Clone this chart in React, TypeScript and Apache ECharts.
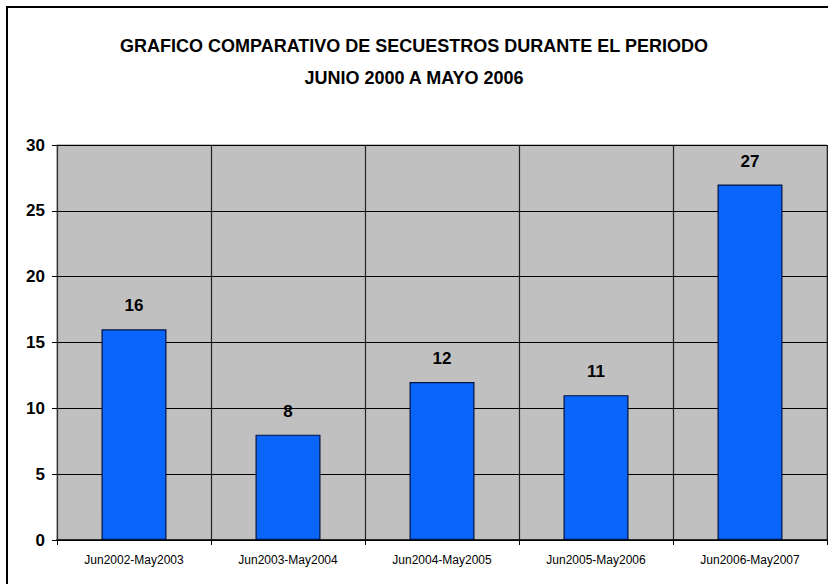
import React, { useEffect, useRef } from "react";
import * as echarts from "echarts";

const categories = ["Jun2002-May2003", "Jun2003-May2004", "Jun2004-May2005", "Jun2005-May2006", "Jun2006-May2007"];
const values = [16, 8, 12, 11, 27];
const titleLines = ["GRAFICO COMPARATIVO DE SECUESTROS DURANTE EL PERIODO", "JUNIO 2000 A MAYO 2006"];

export default function App() {
  const ref = useRef<HTMLDivElement>(null);
  useEffect(() => {
    document.body.style.margin = "0";
    const chart = echarts.init(ref.current!, null, { renderer: "svg" });
    chart.setOption({
      animation: false,
      backgroundColor: "#ffffff",
      title: {
        text: titleLines.join("\n"),
        left: "center",
        top: 25,
        textStyle: {
          fontFamily: "Liberation Sans, Arial",
          fontWeight: "bold",
          fontSize: 18,
          lineHeight: 32,
          color: "#000",
        },
      },
      graphic: [
        {
          type: "rect",
          shape: { x: 7, y: 7, width: 840, height: 600 },
          style: { fill: "none", stroke: "#000", lineWidth: 2 },
          z: 100,
        },
      ],
      grid: {
        left: 57,
        top: 145,
        width: 770,
        height: 395,
        show: true,
        backgroundColor: "#c0c0c0",
        borderColor: "#808080",
        borderWidth: 1,
      },
      xAxis: {
        type: "category",
        data: categories,
        axisLine: { show: true, lineStyle: { color: "#000", width: 1.5 } },
        axisTick: { show: true, length: 5, lineStyle: { color: "#000" } },
        axisLabel: {
          fontFamily: "Liberation Sans, Arial",
          fontSize: 12,
          color: "#000",
          margin: 14,
        },
        splitLine: { show: true, lineStyle: { color: "#222", width: 1.2 } },
      },
      yAxis: {
        type: "value",
        min: 0,
        max: 30,
        interval: 5,
        axisLine: { show: true, lineStyle: { color: "#333", width: 1 } },
        axisTick: { show: true, length: 5, lineStyle: { color: "#000" } },
        axisLabel: {
          fontFamily: "Liberation Sans, Arial",
          fontWeight: "bold",
          fontSize: 17,
          color: "#000",
          margin: 12,
        },
        splitLine: { show: true, lineStyle: { color: "#000", width: 1.2 } },
      },
      series: [
        {
          type: "bar",
          data: values,
          barWidth: 65,
          itemStyle: { color: "#0a66fa", borderColor: "#001040", borderWidth: 1.2 },
          label: {
            show: true,
            position: "top",
            distance: 15,
            fontFamily: "Liberation Sans, Arial",
            fontWeight: "bold",
            fontSize: 17,
            color: "#000",
          },
        },
      ],
    });
    return () => chart.dispose();
  }, []);
  return <div ref={ref} style={{ position: "absolute", left: 0, top: 0, width: 828, height: 584 }} />;
}
